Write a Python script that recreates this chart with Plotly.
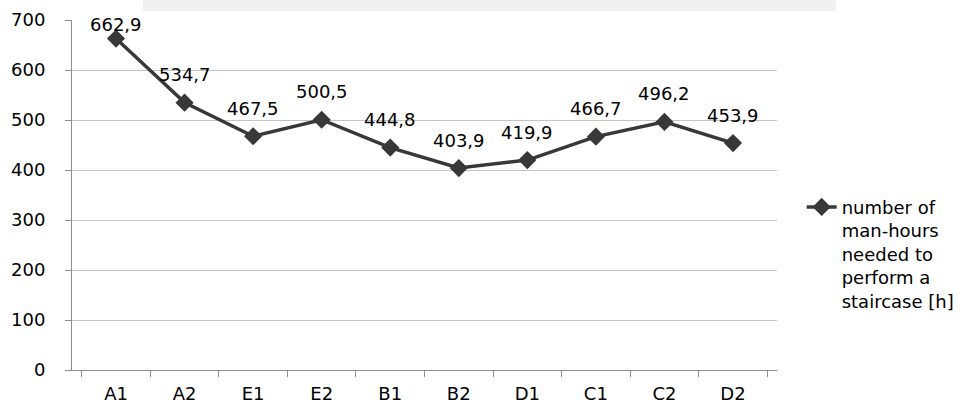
import plotly.graph_objects as go

categories = ["A1", "A2", "E1", "E2", "B1", "B2", "D1", "C1", "C2", "D2"]
values = [662.9, 534.7, 467.5, 500.5, 444.8, 403.9, 419.9, 466.7, 496.2, 453.9]
series_name = "number of<br>man-hours<br>needed to<br>perform a<br>staircase [h]"
y_ticks = [0, 100, 200, 300, 400, 500, 600, 700]

FONT = "DejaVu Sans"
FS = 18
DARK = "#383838"

fig = go.Figure()
fig.add_trace(go.Scatter(
    x=categories, y=values, name=series_name,
    mode="lines+markers",
    line=dict(color=DARK, width=3.5),
    marker=dict(symbol="diamond", size=14, color=DARK),
    cliponaxis=False,
))

# data labels above points (kept inside the plot area like the original)
for c, v in zip(categories, values):
    shift = min(28, (700 - v) * 350 / 700 - 5)
    fig.add_annotation(x=c, y=v, text=f"{v:.1f}".replace(".", ","),
                       showarrow=False, yshift=shift, yanchor="middle",
                       font=dict(family=FONT, size=FS, color="#000000"))

fig.add_shape(type="rect", xref="paper", yref="paper",
              x0=(143 - 72) / 707, x1=(838 - 72) / 707,
              y0=(370 - 11) / 350, y1=(370 + 25) / 350,
              fillcolor="#f0f0f0", line=dict(width=0), layer="below")

fig.update_layout(
    width=972, height=408,
    margin=dict(l=72, r=193, t=20, b=38),
    paper_bgcolor="white", plot_bgcolor="white",
    separators=", ",
    font=dict(family=FONT, size=FS, color="#000000"),
    showlegend=True,
    legend=dict(x=1.035, y=0.518, xanchor="left", yanchor="top", valign="top",
                font=dict(family=FONT, size=FS, color="#000000"),
                bgcolor="rgba(0,0,0,0)", tracegroupgap=0),
)
fig.update_xaxes(
    type="category", showgrid=False, showline=True, linecolor="#8c8c8c", linewidth=1,
    ticks="outside", tickson="boundaries", ticklen=6, tickcolor="#8c8c8c",
    ticklabelstandoff=7, automargin=False,
    tickfont=dict(family=FONT, size=FS, color="#000000"),
)
fig.update_yaxes(
    range=[0, 700], tickvals=y_ticks, showgrid=True, gridcolor="#c4c4c4", gridwidth=1,
    showline=True, linecolor="#8c8c8c", linewidth=1, zeroline=False,
    ticks="outside", ticklen=6, tickcolor="#8c8c8c",
    ticklabelstandoff=16, automargin=False,
    tickfont=dict(family=FONT, size=FS, color="#000000"),
)

fig.write_html("out.html")
